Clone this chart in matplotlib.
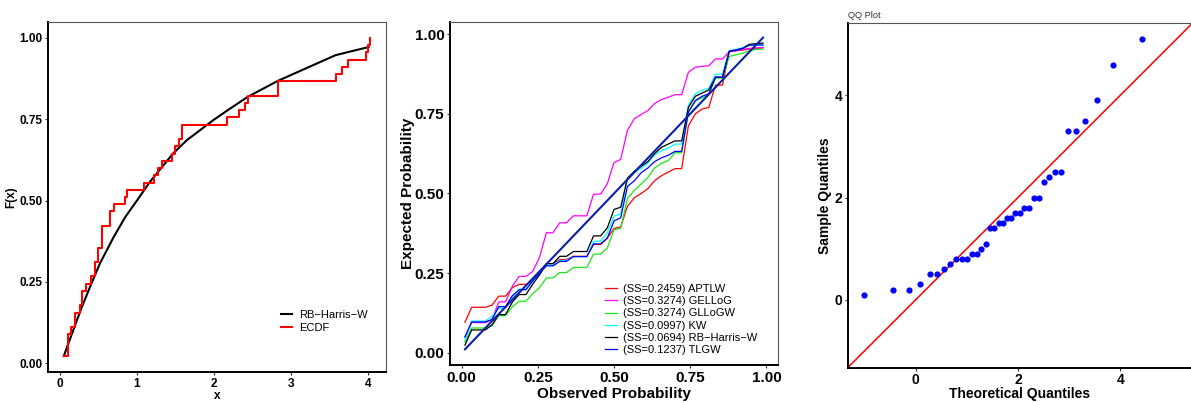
import numpy as np
import matplotlib
matplotlib.use("Agg")
import matplotlib.pyplot as plt

plt.rcParams['font.family'] = ['Liberation Sans', 'DejaVu Sans']

# ---- panel 1 : fitted cdf vs ecdf ----
ecdf_x = [0.05, 0.11, 0.14, 0.20, 0.26, 0.29, 0.335, 0.40, 0.46, 0.50, 0.54, 0.645,
          0.70, 0.84, 0.865, 1.09, 1.22, 1.27, 1.33, 1.45, 1.49, 1.55, 1.59, 2.17,
          2.33, 2.40, 2.44, 2.83, 3.58, 3.66, 3.74, 3.97, 4.00, 4.03]
ecdf_count = [1, 3, 1, 2, 1, 2, 1, 1, 2, 2, 3, 2, 1, 1, 1, 1, 1, 1, 1, 1, 1, 1, 2, 1,
              1, 1, 1, 2, 1, 1, 1, 1, 1, 1]
cdf_x = [0.05, 0.27, 0.40, 0.52, 0.70, 0.85, 1.00, 1.17, 1.47, 1.65, 1.99, 2.18,
         2.44, 2.83, 3.19, 3.58, 3.75, 4.01]
cdf_y = [0.022, 0.164, 0.24, 0.307, 0.389, 0.45, 0.50, 0.558, 0.645, 0.686, 0.747,
         0.778, 0.819, 0.868, 0.906, 0.947, 0.957, 0.972]

# ---- panel 2 : PP plot (expected prob. per tie group of the sorted data) ----
obs_prob = [0.011, 0.033, 0.056, 0.078, 0.100, 0.122, 0.144, 0.167, 0.189, 0.211,
            0.233, 0.256, 0.278, 0.300, 0.322, 0.344, 0.367, 0.389, 0.411, 0.433,
            0.456, 0.478, 0.500, 0.522, 0.544, 0.567, 0.589, 0.611, 0.633, 0.656,
            0.678, 0.700, 0.722, 0.744, 0.767, 0.789, 0.811, 0.833, 0.856, 0.878,
            0.900, 0.922, 0.944, 0.967, 0.989]
pp_names = ["(SS=0.2459) APTLW", "(SS=0.3274) GELLoG", "(SS=0.3274) GLLoGW",
            "(SS=0.0997) KW", "(SS=0.0694) RB\u2212Harris\u2212W", "(SS=0.1237) TLGW"]
pp_colors = ["red", "magenta", "#19e619", "cyan", "black", "blue"]
aptlw = [0.096, 0.143, 0.15, 0.178, 0.205, 0.215, 0.225, 0.252, 0.28, 0.293, 0.303,
         0.34, 0.36, 0.39, 0.395, 0.46, 0.487, 0.50, 0.515, 0.54, 0.556, 0.567, 0.578,
         0.712, 0.75, 0.765, 0.77, 0.84, 0.945, 0.948, 0.95, 0.953, 0.955, 0.957]
gellog = [0.05, 0.095, 0.105, 0.16, 0.21, 0.24, 0.255, 0.30, 0.377, 0.408, 0.43,
          0.498, 0.53, 0.597, 0.607, 0.698, 0.735, 0.748, 0.76, 0.782, 0.795, 0.802,
          0.81, 0.88, 0.896, 0.899, 0.901, 0.922, 0.945, 0.948, 0.952, 0.955, 0.957, 0.958]
gllogw = [0.034, 0.078, 0.085, 0.117, 0.145, 0.162, 0.185, 0.205, 0.235, 0.252, 0.268,
          0.31, 0.329, 0.386, 0.391, 0.484, 0.51, 0.53, 0.55, 0.58, 0.595, 0.603, 0.628,
          0.755, 0.79, 0.80, 0.81, 0.862, 0.93, 0.935, 0.94, 0.948, 0.952, 0.953]
kw = [0.039, 0.10, 0.115, 0.14, 0.175, 0.20, 0.225, 0.25, 0.275, 0.29, 0.302, 0.35,
      0.377, 0.429, 0.436, 0.543, 0.566, 0.579, 0.595, 0.62, 0.635, 0.642, 0.655,
      0.777, 0.813, 0.824, 0.83, 0.874, 0.948, 0.952, 0.958, 0.967, 0.966, 0.964]
rbhw = [0.024, 0.072, 0.088, 0.12, 0.16, 0.183, 0.215, 0.245, 0.28, 0.303, 0.318,
        0.367, 0.392, 0.45, 0.457, 0.548, 0.57, 0.585, 0.60, 0.625, 0.645, 0.655,
        0.665, 0.77, 0.805, 0.815, 0.825, 0.865, 0.946, 0.95, 0.955, 0.968, 0.97, 0.972]
tlgw = [0.05, 0.097, 0.105, 0.145, 0.18, 0.198, 0.225, 0.25, 0.273, 0.287, 0.302,
        0.342, 0.36, 0.414, 0.424, 0.522, 0.54, 0.565, 0.58, 0.60, 0.612, 0.62, 0.632,
        0.756, 0.792, 0.805, 0.813, 0.865, 0.946, 0.95, 0.955, 0.965, 0.966, 0.966]

# ---- panel 3 : QQ plot ----
theo_q = [-1.02, -0.44, -0.14, 0.085, 0.27, 0.42, 0.55, 0.68, 0.79, 0.90, 1.0, 1.10,
          1.20, 1.28, 1.37, 1.46, 1.54, 1.63, 1.71, 1.79, 1.87, 1.95, 2.04, 2.12, 2.21,
          2.31, 2.41, 2.51, 2.61, 2.73, 2.85, 2.98, 3.14, 3.32, 3.54, 3.85, 4.42]
sample_q = [0.1, 0.2, 0.2, 0.3, 0.5, 0.5, 0.6, 0.7, 0.8, 0.8, 0.8, 0.9, 0.9, 1.0, 1.1,
            1.4, 1.4, 1.5, 1.5, 1.6, 1.6, 1.7, 1.7, 1.8, 1.8, 2.0, 2.0, 2.3, 2.4, 2.5,
            2.5, 3.3, 3.3, 3.5, 3.9, 4.6, 5.1]


def style_axes(ax, tick_fs):
    for s in ['top', 'right']:
        ax.spines[s].set_color('#555555')
        ax.spines[s].set_linewidth(0.8)
    for s in ['left', 'bottom']:
        ax.spines[s].set_color('black')
        ax.spines[s].set_linewidth(1.4)
    ax.tick_params(length=2.5, width=0.8, color='#333333', pad=1.5,
                   labelsize=tick_fs, labelcolor='black')
    for lb in ax.get_xticklabels() + ax.get_yticklabels():
        lb.set_fontweight('bold')


W, H = 1191, 403
fig = plt.figure(figsize=(W / 100, H / 100), dpi=100)


def px_axes(l, t, r, b):
    return fig.add_axes([l / W, 1 - b / H, (r - l) / W, (b - t) / H])


# panel 1
ax1 = px_axes(48, 22, 386, 372)
ex = np.array(ecdf_x)
ey = np.cumsum(ecdf_count) / np.sum(ecdf_count)
ax1.plot(cdf_x, cdf_y, color='black', lw=1.5, label='RB\u2212Harris\u2212W')
ax1.step(ex, ey, where='post', color='red', lw=1.5, label='ECDF')
ax1.set_xlim(-0.155, 4.235)
ax1.set_ylim(-0.027, 1.049)
ax1.set_xticks([0, 1, 2, 3, 4])
ax1.set_yticks([0, 0.25, 0.5, 0.75, 1.0])
ax1.set_yticklabels(['0.00', '0.25', '0.50', '0.75', '1.00'])
style_axes(ax1, 8.5)
ax1.set_xlabel('x', fontsize=8.5, fontweight='bold', labelpad=0)
ax1.set_ylabel('F(x)', fontsize=8.5, fontweight='bold', labelpad=1.5)
ax1.legend(loc='upper left', bbox_to_anchor=(281 / W, 1 - 310 / H),
           bbox_transform=fig.transFigure, frameon=False, fontsize=8,
           borderpad=0, borderaxespad=0, handlelength=0.95, handletextpad=0.7,
           labelspacing=0.25)

# panel 2
ax2 = px_axes(450, 22, 778, 365)
reps = np.array(ecdf_count)
for vals, name, col in zip([aptlw, gellog, gllogw, kw, rbhw, tlgw], pp_names, pp_colors):
    ax2.plot(obs_prob, np.repeat(vals, reps), color=col, lw=0.9, label=name)
ax2.plot([obs_prob[0], obs_prob[-1]], [obs_prob[0], obs_prob[-1]],
         color='#0a1fa8', lw=1.5)
ax2.set_xlim(-0.038, 1.038)
ax2.set_ylim(-0.038, 1.038)
ticks = [0, 0.25, 0.5, 0.75, 1.0]
ax2.set_xticks(ticks)
ax2.set_yticks(ticks)
ax2.set_xticklabels(['0.00', '0.25', '0.50', '0.75', '1.00'])
ax2.set_yticklabels(['0.00', '0.25', '0.50', '0.75', '1.00'])
style_axes(ax2, 11)
ax2.set_xlabel('Observed Probability', fontsize=11, fontweight='bold', labelpad=1.5)
ax2.set_ylabel('Expected Probability', fontsize=11, fontweight='bold', labelpad=0)
ax2.legend(loc='upper left', bbox_to_anchor=(605 / W, 1 - 284 / H),
           bbox_transform=fig.transFigure, frameon=False, fontsize=8,
           borderpad=0, borderaxespad=0, handlelength=1.05, handletextpad=0.6,
           labelspacing=0.2)

# panel 3
ax3 = px_axes(847.7, 23.3, 1192.3, 367.7)
ax3.axline((0, 0), slope=1, color='red', lw=1.1)
ax3.scatter(theo_q, sample_q, s=20, color='blue', zorder=3, linewidths=0)
ax3.set_xlim(-1.33, 5.41)
ax3.set_ylim(-1.33, 5.41)
ax3.set_xticks([0, 2, 4])
ax3.set_yticks([0, 2, 4])
style_axes(ax3, 10)
ax3.spines['right'].set_visible(False)
ax3.set_xlabel('Theoretical Quantiles', fontsize=10, fontweight='bold', labelpad=0)
ax3.set_ylabel('Sample Quantiles', fontsize=10, fontweight='bold', labelpad=2)
ax3.set_title('QQ Plot', loc='left', fontsize=6.7, color='#333333', pad=4)

fig.savefig('out.png', dpi=100)
